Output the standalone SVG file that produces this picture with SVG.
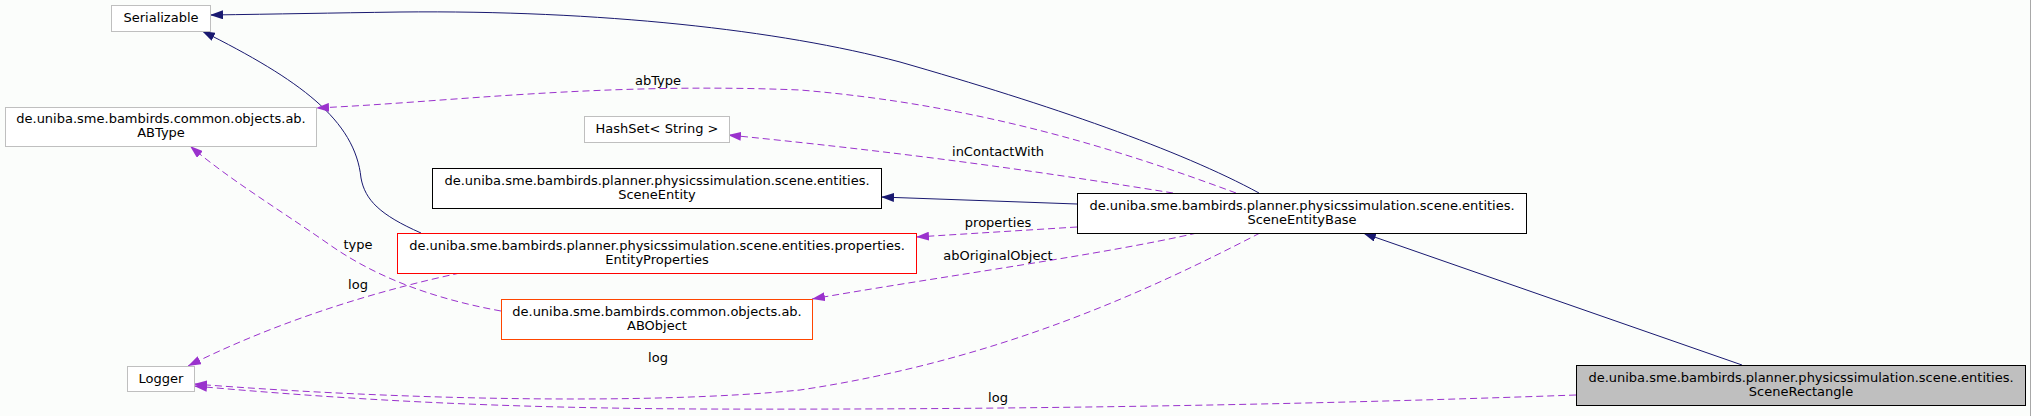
<svg xmlns="http://www.w3.org/2000/svg" width="2031" height="416" viewBox="0 0 2031 416">
<style>
text{font-family:"DejaVu Sans","Liberation Sans",sans-serif;font-size:13px;fill:#000;text-anchor:middle}
.ext{fill:#fff;stroke:#bfbfbf;stroke-width:1}
.cls{fill:#fff;stroke:#000;stroke-width:1}
.red{fill:#fff;stroke:#ff0000;stroke-width:1}
.org{fill:#fff;stroke:#ff4500;stroke-width:1}
.root{fill:#bfbfbf;stroke:#000;stroke-width:1}
.inh{fill:none;stroke:#191970;stroke-width:1;marker-end:url(#an)}
.use{fill:none;stroke:#9a32cd;stroke-width:1;stroke-dasharray:7,4;marker-end:url(#ap)}
</style>
<defs>
<marker id="an" markerWidth="13" markerHeight="9" refX="13" refY="4.5" orient="auto" markerUnits="userSpaceOnUse"><path d="M0,0 L13,4.5 L0,9 z" fill="#191970"/></marker>
<marker id="ap" markerWidth="13" markerHeight="9" refX="13" refY="4.5" orient="auto" markerUnits="userSpaceOnUse"><path d="M0,0 L13,4.5 L0,9 z" fill="#9a32cd"/></marker>
</defs>
<rect x="0" y="0" width="2031" height="416" fill="#fbfdfb"/>
<line x1="2030.5" y1="0" x2="2030.5" y2="416" stroke="#a8a8a8"/>
<g id="edges">
<path class="inh" d="M1259,193 C1180,150 1050,105 900,62 C780,30 600,10 400,12 C330,13 280,14 210,15"/>
<path class="inh" d="M421,233 C380,215 365,200 361,178 C355,120 300,80 202,31"/>
<path class="inh" d="M1077,204 L881,197"/>
<path class="inh" d="M1742,365 L1363,233"/>
<path class="use" d="M1236,193 C1120,150 980,105 800,90 C600,82 450,102 316,108"/>
<text x="658" y="85">abType</text>
<path class="use" d="M1173,193 C1060,175 930,155 728,135"/>
<text x="998" y="156">inContactWith</text>
<path class="use" d="M1077,227 L916,237"/>
<text x="998" y="227">properties</text>
<path class="use" d="M1197,233 C1100,255 950,275 812,299"/>
<text x="998" y="260">abOriginalObject</text>
<path class="use" d="M1260,233 C1150,290 1000,360 800,390 C650,405 400,400 194,384"/>
<text x="658" y="362">log</text>
<path class="use" d="M1576,395 C1300,405 1000,410 700,409 C500,408 350,400 194,386"/>
<text x="998" y="402">log</text>
<path class="use" d="M460,273 C380,290 280,320 188,366"/>
<text x="358" y="289">log</text>
<path class="use" d="M501,311 C440,300 380,280 330,245 C280,210 230,180 190,146"/>
<text x="358" y="249">type</text>
</g>
<g id="node-serializable">
<rect class="ext" x="111.5" y="5.5" width="99" height="26"/>
<text x="161" y="22">Serializable</text>
</g>
<g id="node-abtype">
<rect class="ext" x="5.5" y="107.5" width="311" height="39"/>
<text x="161" y="123">de.uniba.sme.bambirds.common.objects.ab.</text>
<text x="161" y="137">ABType</text>
</g>
<g id="node-hashset">
<rect class="ext" x="584.5" y="116.5" width="145" height="26"/>
<text x="657" y="133">HashSet&lt; String &gt;</text>
</g>
<g id="node-sceneentity">
<rect class="cls" x="432.5" y="168.5" width="449" height="40" stroke="#404040"/>
<text x="657" y="184.5">de.uniba.sme.bambirds.planner.physicssimulation.scene.entities.</text>
<text x="657" y="198.5">SceneEntity</text>
</g>
<g id="node-entityproperties">
<rect class="red" x="397.5" y="233.5" width="519" height="40"/>
<text x="657" y="249.5">de.uniba.sme.bambirds.planner.physicssimulation.scene.entities.properties.</text>
<text x="657" y="263.5">EntityProperties</text>
</g>
<g id="node-abobject">
<rect class="org" x="501.5" y="299.5" width="311" height="40"/>
<text x="657" y="315.5">de.uniba.sme.bambirds.common.objects.ab.</text>
<text x="657" y="329.5">ABObject</text>
</g>
<g id="node-logger">
<rect class="ext" x="127.5" y="366.5" width="67" height="25"/>
<text x="161" y="383">Logger</text>
</g>
<g id="node-sceneentitybase">
<rect class="cls" x="1077.5" y="193.5" width="449" height="40"/>
<text x="1302" y="209.5">de.uniba.sme.bambirds.planner.physicssimulation.scene.entities.</text>
<text x="1302" y="223.5">SceneEntityBase</text>
</g>
<g id="node-scenerectangle">
<rect class="root" x="1576.5" y="365.5" width="449" height="40"/>
<text x="1801" y="381.5">de.uniba.sme.bambirds.planner.physicssimulation.scene.entities.</text>
<text x="1801" y="395.5">SceneRectangle</text>
</g>
</svg>
